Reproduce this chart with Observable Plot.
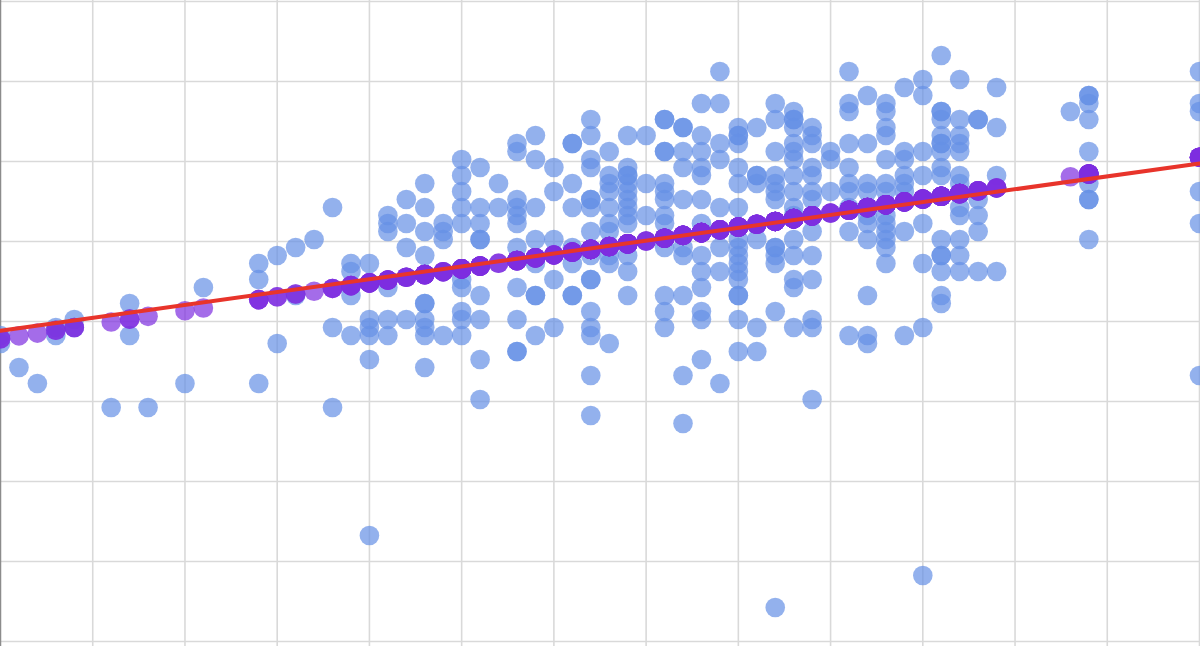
<!DOCTYPE html>
<html><head><meta charset="utf-8">
<script src="https://cdn.jsdelivr.net/npm/d3@7"></script>
<script src="https://cdn.jsdelivr.net/npm/@observablehq/plot@0.6"></script>
<style>html,body{margin:0;padding:0;background:#fff;overflow:hidden}</style>
</head><body><div id="chart"></div>
<script>
// x value of each column of points
const xColumns = [0,1,2,3,4,6,7,8,10,11,14,15,16,17,18,19,20,21,22,23,24,25,26,27,28,29,30,31,32,33,34,35,36,37,38,39,40,41,42,43,44,45,46,47,48,49,50,51,52,53,54,58,59,65];
// y values observed at each column (same order as xColumns)
const yGroups = [
  [38,37],
  [34],
  [32],
  [39,38],
  [40,39],
  [29],
  [42,38],
  [29],
  [32],
  [44],
  [47,45,32],
  [48,37],
  [49,43],
  [50],
  [54,39,29],
  [47,46,43,38],
  [47,40,39,38,35,13],
  [53,52,51,44,40,38],
  [55,52,49,40],
  [57,54,51,48,42,42,40,39,38,34],
  [52,51,50,38],
  [60,58,56,54,52,45,44,41,40,38],
  [59,54,52,50,50,43,40,35,30],
  [57,54],
  [62,61,55,54,53,52,49,44,40,36,36],
  [63,60,54,50,47,43,43,38],
  [59,56,50,45,39],
  [62,62,57,54,49,47,43,43],
  [65,63,60,59,55,55,54,51,48,45,45,41,39,38,33,28],
  [61,58,57,56,54,52,51,48,47,37],
  [63,59,58,58,57,56,55,54,53,52,48,46,43],
  [63,57,53],
  [65,65,61,61,57,56,55,53,52,49,43,41,39],
  [64,64,61,59,55,49,48,43,33,27],
  [67,63,61,59,58,55,52,48,46,44,41,40,35],
  [71,67,62,60,54,49,46,32],
  [64,63,63,62,59,57,54,50,49,48,47,46,45,43,43,40,36],
  [64,58,58,57,50,39,36],
  [67,65,61,58,57,56,55,49,49,48,47,41,4],
  [66,65,65,64,62,61,60,58,56,54,53,50,48,45,44,39],
  [64,63,62,59,58,56,55,51,48,45,40,39,30],
  [61,60,56],
  [71,67,66,62,59,57,56,54,51,38],
  [68,62,57,56,54,53,52,50,43,38,37],
  [67,66,64,63,60,57,56,53,52,51,50,49,47],
  [69,61,60,58,57,56,51,38],
  [70,68,61,58,52,47,39,8],
  [73,66,66,65,63,62,62,61,59,58,50,48,48,46,43,42],
  [70,65,63,62,61,58,57,54,53,50,48,46],
  [65,65,55,53,51,46],
  [69,64,58,46],
  [66],
  [68,68,67,65,61,57,55,55,50],
  [71,67,66,56,52,33]
];
const xGridTicks = [0,5,10,15,20,25,30,35,40,45,50,55,60,65];
const yGridTicks = [-0.25,9.75,19.75,29.75,39.75,49.75,59.75,69.75,79.75];

// fitted (purple) values and trend line (red)
const fitIntercept = 37.6, fitSlope = 0.349;
const trendIntercept = 38.6, trendSlope = 0.3215;

const points = xColumns.flatMap((x, i) => yGroups[i].map(y => ({x, y})));
const fitted = points.map(d => ({x: d.x, y: fitIntercept + fitSlope * d.x}));
const xExtent = [xGridTicks[0], xGridTicks[xGridTicks.length - 1]];
const trend = xExtent.map(x => ({x, y: trendIntercept + trendSlope * x}));

const chart = Plot.plot({
  width: 1200, height: 646,
  marginLeft: 0, marginRight: 1, marginTop: 0, marginBottom: 0,
  x: {domain: [0, 65], axis: null},
  y: {domain: [-0.875, 79.875], axis: null},
  marks: [
    Plot.ruleX(xGridTicks.slice(1), {stroke: "#d9d9d9", strokeWidth: 1.6}),
    Plot.ruleY(yGridTicks, {stroke: "#d9d9d9", strokeWidth: 1.6}),
    Plot.ruleX([0], {stroke: "#8c8c8c", strokeWidth: 1.5}),
    Plot.dot(points, {x: "x", y: "y", r: 9.8, fill: "#6590e6", fillOpacity: 0.7, stroke: "none"}),
    Plot.dot(fitted, {x: "x", y: "y", r: 9.8, fill: "#7d2ee0", fillOpacity: 0.7, stroke: "none"}),
    Plot.line(trend, {x: "x", y: "y", stroke: "#e8342b", strokeWidth: 4})
  ]
});
document.getElementById("chart").appendChild(chart);
</script>
</body></html>
